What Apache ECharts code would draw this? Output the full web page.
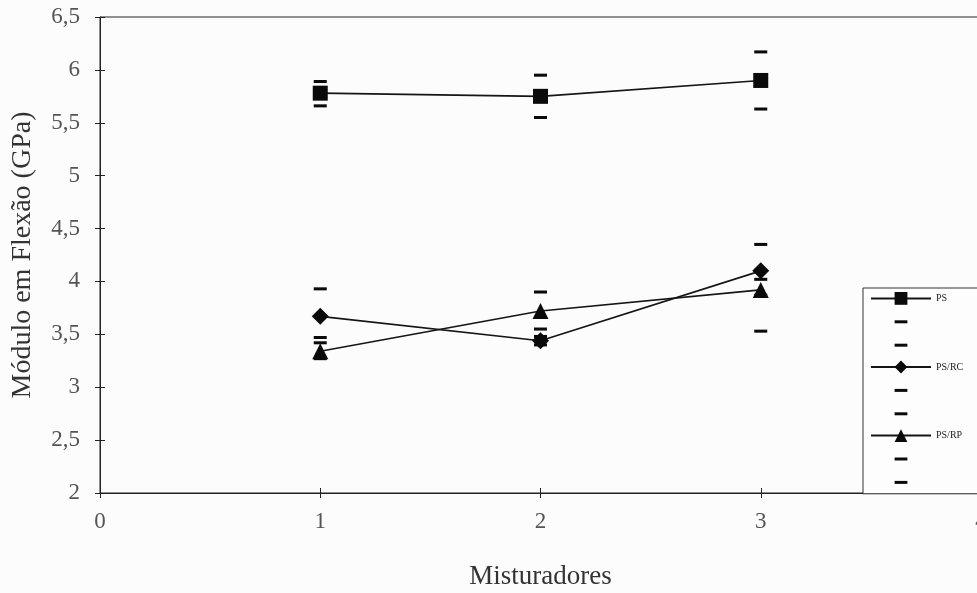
<!DOCTYPE html>
<html>
<head>
<meta charset="utf-8">
<script src="https://cdn.jsdelivr.net/npm/echarts@6/dist/echarts.min.js"></script>
<style>
  html, body { margin: 0; padding: 0; background: #fcfcfc; }
  #chart { width: 977px; height: 593px; }
</style>
</head>
<body>
<div id="chart"></div>
<script>
// misturadores (eixo x)
const misturadores = [1, 2, 3]

// módulo em flexão (GPa) e barras de erro
const ps = [5.78, 5.75, 5.90]
const psMais = [5.89, 5.95, 6.17]
const psMenos = [5.66, 5.55, 5.63]

const psRc = [3.67, 3.44, 4.10]
const psRcMais = [3.93, 3.48, 4.35]
const psRcMenos = [3.42, 3.40, 3.87]

const psRp = [3.34, 3.72, 3.92]
const psRpMais = [3.47, 3.90, 4.02]
const psRpMenos = [3.27, 3.55, 3.53]

const nomes = ['PS', 'PS/RC', 'PS/RP']

const serif = '"Liberation Serif", "DejaVu Serif", serif'
// traço das barras de erro (quadro quadrado, traço fino no meio)
const traco = 'path://M0,0M12,12M0,4.6H12V7.4H0Z'

const pares = (ys) => misturadores.map((x, i) => [x, ys[i]])

function serieLinha(name, ys, symbol, size) {
  return {
    name: name,
    type: 'line',
    data: pares(ys),
    symbol: symbol,
    symbolSize: size,
    z: 3,
    lineStyle: { color: '#151515', width: 1.6 },
    itemStyle: { color: '#0a0a0a' }
  }
}

function serieErro(name, ys) {
  return {
    name: name,
    type: 'line',
    data: pares(ys),
    symbol: traco,
    symbolSize: 13,
    z: 2,
    lineStyle: { width: 0, color: '#0a0a0a' },
    itemStyle: { color: '#0a0a0a' }
  }
}

const series = [
  serieLinha('PS', ps, 'rect', 15),
  serieErro('PS+', psMais),
  serieErro('PS-', psMenos),
  serieLinha('PS/RC', psRc, 'diamond', 17),
  serieErro('PS/RC+', psRcMais),
  serieErro('PS/RC-', psRcMenos),
  serieLinha('PS/RP', psRp, 'triangle', 16),
  serieErro('PS/RP+', psRpMais),
  serieErro('PS/RP-', psRpMenos)
]

const eixoY = {
  type: 'value',
  min: 2,
  max: 6.5,
  interval: 0.5
}
const eixoX = {
  type: 'value',
  min: 0,
  max: 4,
  interval: 1
}

const option = {
  backgroundColor: '#fcfcfc',
  animation: false,
  grid: {
    left: 100,
    top: 17,
    width: 881,
    height: 476,
    outerBoundsMode: 'none',
    containLabel: false,
    show: true,
    borderColor: '#222',
    borderWidth: 1,
    backgroundColor: 'transparent'
  },
  legend: {
    orient: 'vertical',
    left: 863,
    top: 288,
    padding: [4, 40, 5, 7],
    itemWidth: 60,
    itemHeight: 16,
    itemGap: 9,
    borderColor: '#333',
    borderWidth: 1,
    backgroundColor: '#fdfdfd',
    data: series.map(s => s.name),
    formatter: (name) => nomes.includes(name) ? name : '',
    textStyle: { fontFamily: serif, fontSize: 10, color: '#222' }
  },
  xAxis: [
    Object.assign({}, eixoX, {
      name: 'Misturadores',
      nameLocation: 'middle',
      nameGap: 70,
      nameTextStyle: { fontFamily: serif, fontSize: 27, color: '#333' },
      axisLine: { lineStyle: { color: '#222', width: 1 } },
      axisTick: { length: 5, lineStyle: { color: '#222' } },
      axisLabel: { fontFamily: serif, fontSize: 23, color: '#555', margin: 17 },
      splitLine: { show: false }
    }),
    Object.assign({}, eixoX, {
      position: 'bottom',
      axisLine: { show: false },
      axisTick: { inside: true, length: 5, lineStyle: { color: '#222' } },
      axisLabel: { show: false },
      splitLine: { show: false }
    })
  ],
  yAxis: [
    Object.assign({}, eixoY, {
      name: 'Módulo em Flexão (GPa)',
      nameLocation: 'middle',
      nameGap: 63,
      nameTextStyle: { fontFamily: serif, fontSize: 28, color: '#333' },
      axisLine: { show: true, lineStyle: { color: '#222', width: 1 } },
      axisTick: { show: true, length: 5, lineStyle: { color: '#222' } },
      axisLabel: {
        fontFamily: serif, fontSize: 23, color: '#555', margin: 20,
        formatter: (v) => String(v).replace('.', ',')
      },
      splitLine: { show: false }
    }),
    Object.assign({}, eixoY, {
      position: 'left',
      axisLine: { show: false },
      axisTick: { show: true, inside: true, length: 5, lineStyle: { color: '#222' } },
      axisLabel: { show: false },
      splitLine: { show: false }
    })
  ],
  series: series
}

const myChart = echarts.init(document.getElementById('chart'))
myChart.setOption(option)
</script>
</body>
</html>
